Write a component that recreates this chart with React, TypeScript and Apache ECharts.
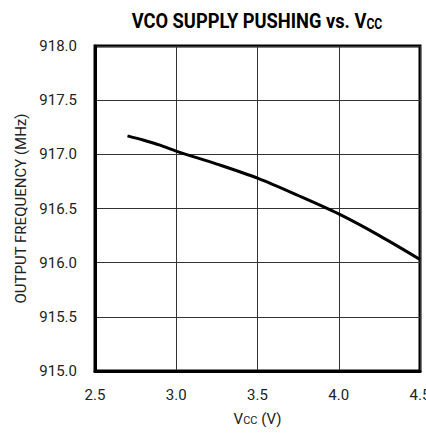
import React, { useEffect, useRef } from "react";
import * as echarts from "echarts";

const vcc = [2.7, 2.8, 2.9, 3.0, 3.25, 3.5, 3.75, 4.0, 4.25, 4.5];
const freq = [917.17, 917.13, 917.085, 917.03, 916.91, 916.78, 916.62, 916.45, 916.25, 916.03];
const xRange = [2.5, 4.5];
const yRange = [915.0, 918.0];
const tickStep = 0.5;

const FONT = 'Roboto, "Liberation Sans", sans-serif';

export default function App() {
  const ref = useRef<HTMLDivElement>(null);
  useEffect(() => {
    document.documentElement.style.overflow = "hidden";
    document.body.style.margin = "0";
    document.body.style.overflow = "hidden";
    if (!ref.current) return;
    const chart = echarts.init(ref.current, undefined, { renderer: "svg" });
    chart.setOption({
      animation: false,
      backgroundColor: "#ffffff",
      grid: {
        left: 95,
        right: 6,
        top: 46,
        bottom: 62,
        show: true,
        borderColor: "#000",
        borderWidth: 3,
        containLabel: false,
        outerBoundsMode: "none",
      },
      graphic: [
        {
          type: "text",
          x: 257,
          y: 21,
          scaleX: 0.87,
          style: {
            text: "{a|VCO SUPPLY PUSHING vs. V}{b|CC}",
            align: "center",
            verticalAlign: "middle",
            rich: {
              a: { fontFamily: FONT, fontWeight: "bold", fontSize: 21, fill: "#000", verticalAlign: "bottom" },
              b: { fontFamily: FONT, fontWeight: "bold", fontSize: 14, fill: "#000", verticalAlign: "bottom" },
            },
          },
        },
      ],
      xAxis: {
        type: "value",
        min: xRange[0],
        max: xRange[1],
        interval: tickStep,
        name: "{a|V}{b|CC}{a| (V)}",
        nameLocation: "middle",
        nameGap: 40,
        nameTextStyle: {
          rich: {
            a: { fontFamily: FONT, fontSize: 15, color: "#222", verticalAlign: "bottom" },
            b: { fontFamily: FONT, fontSize: 11, color: "#222", verticalAlign: "bottom" },
          },
        },
        axisLine: { show: true, lineStyle: { color: "#000", width: 3 } },
        axisTick: { show: false },
        axisLabel: {
          margin: 16,
          fontFamily: FONT,
          fontSize: 15,
          color: "#222",
          formatter: (v: number) => v.toFixed(1),
        },
        splitLine: { show: true, lineStyle: { color: "#333", width: 1 } },
      },
      yAxis: {
        type: "value",
        min: yRange[0],
        max: yRange[1],
        interval: tickStep,
        name: "OUTPUT FREQUENCY (MHz)",
        nameLocation: "middle",
        nameGap: 59,
        nameTextStyle: { fontFamily: FONT, fontSize: 15, color: "#222" },
        axisLine: { show: true, lineStyle: { color: "#000", width: 3 } },
        axisTick: { show: false },
        axisLabel: {
          margin: 18,
          fontFamily: FONT,
          fontSize: 15,
          color: "#222",
          formatter: (v: number) => v.toFixed(1),
        },
        splitLine: { show: true, lineStyle: { color: "#333", width: 1 } },
      },
      series: [
        {
          type: "line",
          data: vcc.map((x, i) => [x, freq[i]]),
          smooth: 0.3,
          symbol: "none",
          lineStyle: { color: "#000", width: 3 },
        },
      ],
    });
    return () => chart.dispose();
  }, []);
  return (
    <div
      ref={ref}
      style={{ position: "fixed", left: 0, top: 0, width: 426, height: 433 }}
    />
  );
}
